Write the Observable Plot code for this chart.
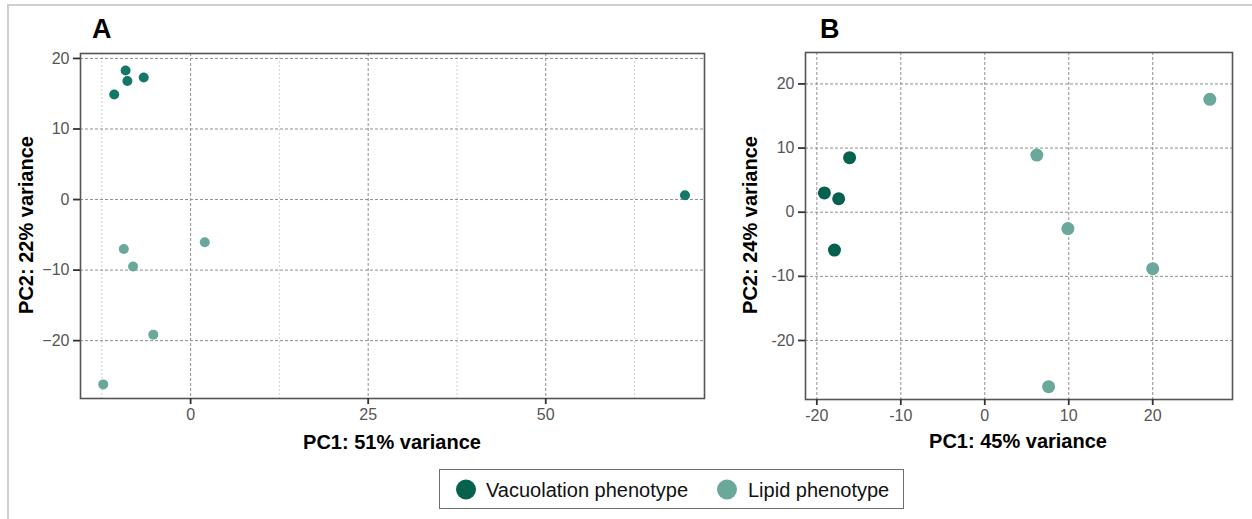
<!DOCTYPE html>
<html>
<head>
<meta charset="utf-8">
<script src="https://cdn.jsdelivr.net/npm/d3@7"></script>
<script src="https://cdn.jsdelivr.net/npm/@observablehq/plot@0.6"></script>
<style>
  html, body { margin: 0; padding: 0; background: #fff; }
  #page { position: relative; width: 1252px; height: 519px; overflow: hidden; font-family: "Liberation Sans", Arial, sans-serif; }
  #border { position: absolute; left: 7px; top: 4px; right: 0; bottom: 0; border-top: 2px solid #cfcfcf; border-left: 2px solid #cfcfcf; }
  .panel { position: absolute; top: 0; }
  #overlay { position: absolute; left: 0; top: 0; }
  #legend { position: absolute; left: 439px; top: 469px; width: 465px; height: 40px; border: 1px solid #6e6e6e; box-sizing: border-box; }
</style>
</head>
<body>
<div id="page">
  <div id="border"></div>
  <div id="panelA" class="panel" style="left:0px"></div>
  <div id="panelB" class="panel" style="left:720px"></div>
  <svg id="overlay" width="1252" height="519"></svg>
  <div id="legend"></div>
</div>
<script>
// ---- Data ----
const groups = ["Vacuolation phenotype", "Lipid phenotype"];

// Panel A
const vacA_x = [-9.15, -8.9, -6.6, -10.75, 69.6];
const vacA_y = [18.3, 16.8, 17.3, 14.9, 0.6];
const lipA_x = [-9.4, -8.1, 2.0, -5.25, -12.3];
const lipA_y = [-7.0, -9.5, -6.05, -19.15, -26.2];
const ticksA_x = [0, 25, 50];
const minorA_x = [-12.5, 12.5, 37.5, 62.5];
const ticksA_y = [-20, -10, 0, 10, 20];
const titleA_x = "PC1: 51% variance";
const titleA_y = "PC2: 22% variance";

// Panel B
const vacB_x = [-19.1, -17.4, -16.1, -17.9];
const vacB_y = [3.0, 2.1, 8.5, -5.9];
const lipB_x = [6.2, 9.9, 26.8, 20.0, 7.6];
const lipB_y = [8.9, -2.55, 17.6, -8.8, -27.2];
const ticksB_x = [-20, -10, 0, 10, 20];
const ticksB_y = [-20, -10, 0, 10, 20];
const titleB_x = "PC1: 45% variance";
const titleB_y = "PC2: 24% variance";

const colorA = ["#147868", "#6aa89c"];
const colorB = ["#04614e", "#6aa89c"];
const legendColors = ["#06624f", "#6aa89c"];

function rows(xs, ys, g) { return xs.map((x, i) => ({x, y: ys[i], group: g})); }
const dataA = [...rows(vacA_x, vacA_y, groups[0]), ...rows(lipA_x, lipA_y, groups[1])];
const dataB = [...rows(vacB_x, vacB_y, groups[0]), ...rows(lipB_x, lipB_y, groups[1])];

const font = '"Liberation Sans", Arial, sans-serif';

const plotA = Plot.plot({
  width: 720, height: 460,
  marginLeft: 80, marginRight: 16, marginTop: 53, marginBottom: 62,
  style: {fontFamily: font, background: "transparent"},
  x: {domain: [-15.5, 72.35]},
  y: {domain: [-28.2, 20.7]},
  color: {domain: groups, range: colorA},
  marks: [
    Plot.gridX(minorA_x, {stroke: "#c8c8c8", strokeOpacity: 1, strokeDasharray: "2,2", strokeWidth: 0.8}),
    Plot.gridX(ticksA_x, {stroke: "#8f8f8f", strokeOpacity: 1, strokeDasharray: "3,2", strokeWidth: 1}),
    Plot.gridY(ticksA_y, {stroke: "#8f8f8f", strokeOpacity: 1, strokeDasharray: "3,2", strokeWidth: 1}),
    Plot.frame({stroke: "#555", strokeWidth: 1.6}),
    Plot.axisX(ticksA_x, {label: null, tickSize: 6, tickPadding: 4, fontSize: 16, stroke: "#333", strokeWidth: 1.8, fill: "#555"}),
    Plot.axisY(ticksA_y, {label: null, tickSize: 7, tickPadding: 4, fontSize: 16, stroke: "#333", strokeWidth: 1.8, fill: "#555"}),
    Plot.dot(dataA, {x: "x", y: "y", fill: "group", r: 5})
  ]
});
document.getElementById("panelA").appendChild(plotA);

const plotB = Plot.plot({
  width: 532, height: 460,
  marginLeft: 85, marginRight: 20, marginTop: 52, marginBottom: 61,
  style: {fontFamily: font, background: "transparent"},
  x: {domain: [-21.35, 29.5]},
  y: {domain: [-29.2, 24.9]},
  color: {domain: groups, range: colorB},
  marks: [
    Plot.gridX(ticksB_x, {stroke: "#8f8f8f", strokeOpacity: 1, strokeDasharray: "3,2", strokeWidth: 1}),
    Plot.gridY(ticksB_y, {stroke: "#8f8f8f", strokeOpacity: 1, strokeDasharray: "3,2", strokeWidth: 1}),
    Plot.frame({stroke: "#555", strokeWidth: 1.6}),
    Plot.axisX(ticksB_x, {label: null, tickSize: 6, tickPadding: 4, fontSize: 16, stroke: "#333", strokeWidth: 1.8, fill: "#555", tickFormat: d => String(d)}),
    Plot.axisY(ticksB_y, {label: null, tickSize: 7, tickPadding: 4, fontSize: 16, stroke: "#333", strokeWidth: 1.8, fill: "#555", tickFormat: d => String(d)}),
    Plot.dot(dataB, {x: "x", y: "y", fill: "group", r: 6.5})
  ]
});
document.getElementById("panelB").appendChild(plotB);

// Titles and panel letters
const ov = d3.select("#overlay").style("font-family", font);
const texts = [
  {t: "A", x: 92, y: 38, size: 27, anchor: "start", rot: false},
  {t: "B", x: 820, y: 38, size: 27, anchor: "start", rot: false},
  {t: titleA_x, x: 392, y: 449, size: 20, anchor: "middle", rot: false},
  {t: titleA_y, x: 33, y: 225, size: 20, anchor: "middle", rot: true},
  {t: titleB_x, x: 1018, y: 448, size: 20, anchor: "middle", rot: false},
  {t: titleB_y, x: 757, y: 225, size: 20, anchor: "middle", rot: true}
];
texts.forEach(d => {
  ov.append("text")
    .attr("transform", d.rot ? `translate(${d.x},${d.y}) rotate(-90)` : `translate(${d.x},${d.y})`)
    .attr("text-anchor", d.anchor)
    .attr("font-weight", "bold")
    .attr("font-size", d.size)
    .attr("fill", "#000")
    .text(d.t);
});

// Legend
const leg = d3.select("#legend");
const items = [{g: groups[0], c: legendColors[0], cx: 26, tx: 46}, {g: groups[1], c: legendColors[1], cx: 287, tx: 308}];
const lsvg = leg.append("svg").attr("width", 463).attr("height", 38).style("position", "absolute").style("left", 0).style("top", 0).style("font-family", font);
items.forEach(it => {
  lsvg.append("circle").attr("cx", it.cx).attr("cy", 19.5).attr("r", 10).attr("fill", it.c);
  lsvg.append("text").attr("x", it.tx).attr("y", 26.5).attr("font-size", 20).attr("fill", "#111").text(it.g);
});
</script>
</body>
</html>
